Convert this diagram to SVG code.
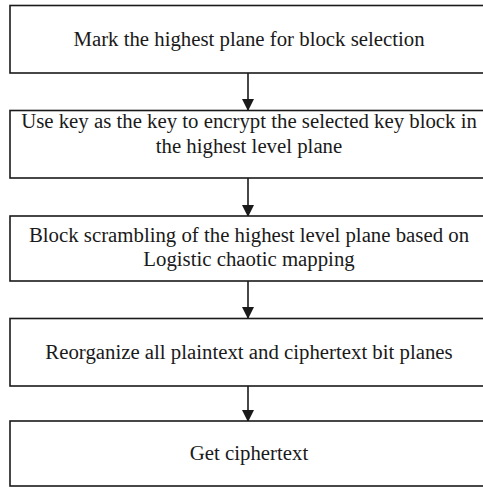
<svg xmlns="http://www.w3.org/2000/svg" width="483" height="487" viewBox="0 0 483 487">
<style>
.box{fill:#fff;stroke:#1a1a1a;stroke-width:1.6}
.t{font-family:"Liberation Serif","Times New Roman",serif;font-size:20.8px;fill:#1a1a1a;text-anchor:middle}
.c{stroke:#1a1a1a;stroke-width:1.6;fill:none}
</style>
<defs>
<marker id="ah" markerWidth="12" markerHeight="13" refX="11" refY="6" orient="auto" markerUnits="userSpaceOnUse" viewBox="0 0 12 12">
<path d="M0,0 L12,6 L0,12 Z" fill="#1a1a1a"/>
</marker>
</defs>
<rect width="483" height="487" fill="#fff"/>
<g id="connectors">
<line class="c" x1="248" y1="73" x2="248" y2="110" marker-end="url(#ah)"/>
<line class="c" x1="248" y1="178" x2="248" y2="216" marker-end="url(#ah)"/>
<line class="c" x1="248" y1="281" x2="248" y2="318" marker-end="url(#ah)"/>
<line class="c" x1="248" y1="386" x2="248" y2="421" marker-end="url(#ah)"/>
</g>
<g id="n1">
<rect class="box" x="10" y="5.5" width="480" height="67.5"/>
<text class="t" x="249" y="46">Mark the highest plane for block selection</text>
</g>
<g id="n2">
<rect class="box" x="10" y="110.5" width="480" height="67.5"/>
<text class="t" x="249" y="128">Use key as the key to encrypt the selected key block in</text>
<text class="t" x="249" y="153">the highest level plane</text>
</g>
<g id="n3">
<rect class="box" x="10" y="216" width="480" height="65"/>
<text class="t" x="249" y="241.5">Block scrambling of the highest level plane based on</text>
<text class="t" x="249" y="265.5">Logistic chaotic mapping</text>
</g>
<g id="n4">
<rect class="box" x="10" y="318.5" width="480" height="67.5"/>
<text class="t" x="249" y="358.5">Reorganize all plaintext and ciphertext bit planes</text>
</g>
<g id="n5">
<rect class="box" x="10" y="421" width="480" height="65"/>
<text class="t" x="249" y="460">Get ciphertext</text>
</g>
</svg>
